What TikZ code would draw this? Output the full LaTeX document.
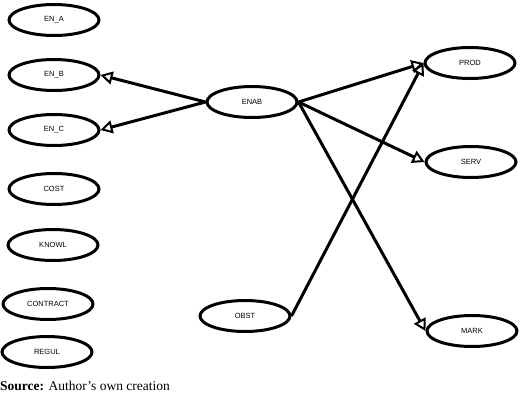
\documentclass[tikz,border=0pt]{standalone}
\usepackage{fontspec}
\setmainfont{Liberation Serif}
\newfontfamily\arialfont{Liberation Sans}
\usetikzlibrary{shapes.geometric,arrows.meta}

\tikzset{
  factor/.style={ellipse, draw, line width=3pt, minimum width=90pt, minimum height=31pt,
    inner sep=0pt, font=\arialfont\fontsize{7.5}{9}\selectfont},
  link/.style={line width=3pt, -{Triangle[open, length=12pt, width=13pt, line width=2pt]}}
}

\begin{document}
\begin{tikzpicture}[x=1pt,y=-1pt]
        \useasboundingbox (0,0) rectangle (520,400);

        % Left column
        \node[factor] (ena) at (54,20) {EN\_A};
        \node[factor] (enb) at (54,75) {EN\_B};
        \node[factor] (enc) at (54,130) {EN\_C};
        \node[factor] (cost) at (54,189) {COST};
        \node[factor] (knowl) at (53,245) {KNOWL};
        \node[factor] (contract) at (48,304) {CONTRACT};
        \node[factor] (regul) at (47,352) {REGUL};

        % Middle
        \node[factor] (enab) at (252,102) {ENAB};
        \node[factor] (obst) at (245,316) {OBST};

        % Right column
        \node[factor] (prod) at (470,63) {PROD};
        \node[factor] (serv) at (471,162) {SERV};
        \node[factor] (mark) at (472,331) {MARK};

        % Links
        \draw[link] (enab.west) -- (enb.east);
        \draw[link] (enab.west) -- (enc.east);
        \draw[link] (enab.east) -- (prod.west);
        \draw[link] (enab.east) -- (serv.west);
        \draw[link] (enab.east) -- (mark.west);
        \draw[link] (obst.east) -- (prod.west);

        % Source
        \node[anchor=west, inner sep=0pt, font=\fontsize{13.5}{16}\selectfont] (src) at (0,386)
          {\textbf{Source:} Author’s own creation};
      \end{tikzpicture}
\end{document}
